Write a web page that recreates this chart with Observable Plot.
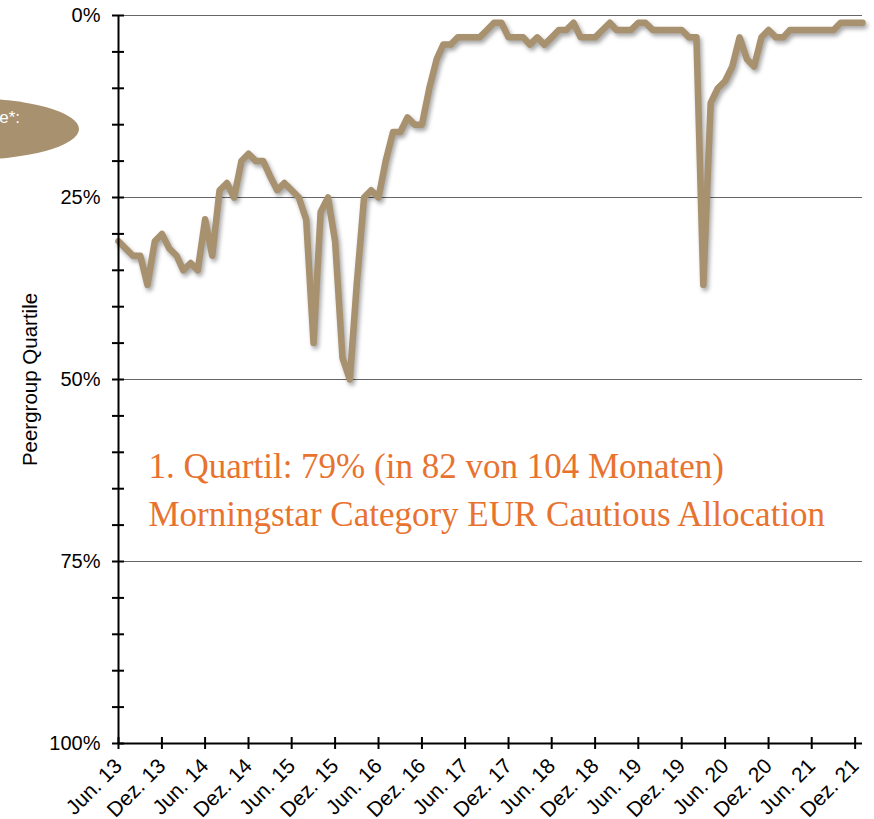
<!DOCTYPE html>
<html><head><meta charset="utf-8">
<script src="https://cdn.jsdelivr.net/npm/d3@7"></script>
<script src="https://cdn.jsdelivr.net/npm/@observablehq/plot@0.6"></script>
<style>
html,body{margin:0;padding:0;background:#fff;}
#wrap{position:relative;width:874px;height:819px;overflow:hidden;}
#wrap g[aria-label="line"] path{filter:drop-shadow(2px 3px 2px rgba(0,0,0,0.35));}
.badge{position:absolute;left:-149px;top:98px;width:228px;height:62px;border-radius:50%;background:#a8916f;}
.badge-text{position:absolute;left:-80px;width:100px;top:108px;text-align:right;color:#fff;font:17px "Liberation Sans",Arial,sans-serif;}
</style></head><body><div id="wrap"></div>
<script>
// ---- data ----
const startYear = 2013, startMonth = 5; // June 2013 (0-based month)
const quartile = [
  31, 32, 33, 33, 37, 31, 30, 32, 33, 35, 34, 35, 28, 33, 24, 23, 25, 20, 19, 20,
  20, 22, 24, 23, 24, 25, 28, 45, 27, 25, 31, 47, 50, 37, 25, 24, 25, 20, 16, 16,
  14, 15, 15, 10, 6, 4, 4, 3, 3, 3, 3, 2, 1, 1, 3, 3, 3, 4, 3, 4,
  3, 2, 2, 1, 3, 3, 3, 2, 1, 2, 2, 2, 1, 1, 2, 2, 2, 2, 2, 3,
  3, 37, 12, 10, 9, 7, 3, 6, 7, 3, 2, 3, 3, 2, 2, 2, 2, 2, 2, 2,
  1, 1, 1, 1
];
const xTickLabels = ["Jun. 13","Dez. 13","Jun. 14","Dez. 14","Jun. 15","Dez. 15","Jun. 16","Dez. 16","Jun. 17",
  "Dez. 17","Jun. 18","Dez. 18","Jun. 19","Dez. 19","Jun. 20","Dez. 20","Jun. 21","Dez. 21"];
const yTickValues = [0, 25, 50, 75, 100];
const yGridValues = [0, 25, 50, 75];
const yMinorTicks = [0,5,10,15,20,25,30,35,40,45,50,55,60,65,70,75,80,85,90,95,100];
const yLabel = "Peergroup Quartile";
const annotation = ["1. Quartil: 79% (in 82 von 104 Monaten)", "Morningstar Category EUR Cautious Allocation"];
const badgeText = "e*:";

// ---- build ----
const data = quartile.map((v, i) => ({date: new Date(Date.UTC(startYear, startMonth + i, 1)), value: v}));
const xTickDates = xTickLabels.map((_, i) => new Date(Date.UTC(startYear, startMonth + 6 * i, 1)));
const labelMap = new Map(xTickDates.map((d, i) => [+d, xTickLabels[i]]));
const x0 = data[0].date, x1 = data[data.length - 1].date;

const lineColor = "#a8916f";

const chart = Plot.plot({
  width: 874, height: 819,
  marginTop: 15, marginLeft: 118, marginRight: 12, marginBottom: 76,
  style: {fontFamily: "'Liberation Sans', Arial, sans-serif", fontSize: "20px", background: "#fff", overflow: "visible"},
  x: {type: "utc", domain: [x0, x1]},
  y: {domain: [0, 100], reverse: true},
  marks: [
    Plot.ruleY(yGridValues, {stroke: "#666", strokeWidth: 1}),
    Plot.axisY({ticks: yMinorTicks, tickSize: 12, dx: 6, tickFormat: () => "", stroke: "#000", strokeWidth: 2, label: null}),
    Plot.axisY({ticks: yTickValues, tickSize: 0, tickPadding: 18, tickFormat: d => d + "%", fill: "#000", fontSize: 20, label: null}),
    Plot.axisX({ticks: xTickDates, tickSize: 12, dy: -6, tickFormat: () => "", stroke: "#000", strokeWidth: 2, label: null}),
    Plot.axisX({ticks: xTickDates, tickSize: 0, tickRotate: -45, tickPadding: 19, dx: 0, tickFormat: d => labelMap.get(+d), fill: "#000", fontSize: 21, label: null}),
    Plot.line(data, {x: "date", y: "value", stroke: lineColor, strokeWidth: 6.5, strokeLinejoin: "round", strokeLinecap: "round"}),
    Plot.ruleX([x0], {stroke: "#000", strokeWidth: 2}),
    Plot.ruleY([100], {stroke: "#000", strokeWidth: 2}),
    Plot.text([yLabel], {frameAnchor: "left", rotate: -90, dx: -88, textAnchor: "middle", fontSize: 20.5, fill: "#000"}),
    Plot.text([annotation.join("\n")], {frameAnchor: "left", textAnchor: "start", lineAnchor: "top", dx: 30, dy: 65,
      fill: "#e8732f", fontFamily: "'Liberation Serif', 'Times New Roman', serif", fontSize: 35, lineHeight: 1.36})
  ]
});

const wrap = document.getElementById("wrap");
wrap.appendChild(chart);
const badge = document.createElement("div");
badge.className = "badge";
wrap.appendChild(badge);
const bt = document.createElement("div");
bt.className = "badge-text";
bt.textContent = badgeText;
wrap.appendChild(bt);
</script>
</body></html>
